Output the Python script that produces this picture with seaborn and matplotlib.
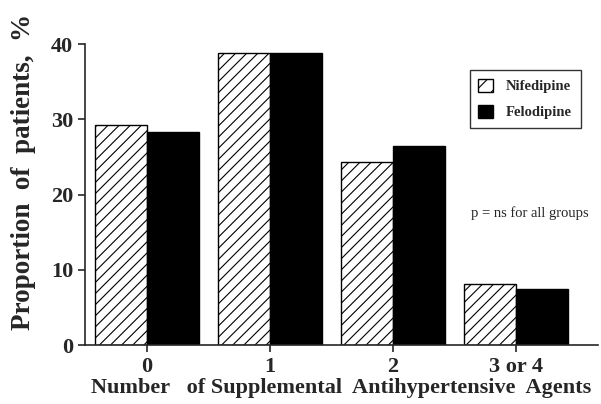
import pandas as pd
import matplotlib.pyplot as plt
import seaborn as sns
from matplotlib.patches import Patch

# dados
grupos = ['0', '1', '2', '3 or 4']
nifedipine = [29.2, 38.8, 24.3, 8.1]
felodipine = [28.3, 38.8, 26.4, 7.4]
farmacos = ['Nifedipine', 'Felodipine']

df = pd.DataFrame({
    'grupo': grupos * 2,
    'valor': nifedipine + felodipine,
    'farmaco': [farmacos[0]] * len(grupos) + [farmacos[1]] * len(grupos),
})

sns.set_style('ticks')
plt.rcParams['font.family'] = ['Liberation Serif', 'DejaVu Serif']
plt.rcParams['hatch.linewidth'] = 0.8

fig = plt.figure(figsize=(6.01, 4.04), dpi=100)
ax = fig.add_axes([0.1414, 0.146, 0.8536, 0.745])

sns.barplot(data=df, x='grupo', y='valor', hue='farmaco', order=grupos,
            hue_order=farmacos, palette=['white', 'black'], width=0.845,
            edgecolor='black', linewidth=1, saturation=1, legend=False, ax=ax)

for barra in ax.containers[0]:
    barra.set_hatch('///')

ax.set_xlim(-0.504, 3.67)
ax.set_ylim(0, 40)
ax.set_yticks([0, 10, 20, 30, 40])
sns.despine(ax=ax)
ax.spines['left'].set_linewidth(1.2)
ax.spines['bottom'].set_linewidth(1.2)
ax.tick_params(axis='both', direction='out', length=5, width=1.2, labelsize=16)
for t in ax.get_xticklabels() + ax.get_yticklabels():
    t.set_fontweight('bold')

ax.set_ylabel('Proportion  of  patients,  %', fontsize=19.5, fontweight='bold')
ax.yaxis.set_label_coords(-0.095, 0.575)
ax.set_xlabel('Number   of Supplemental  Antihypertensive  Agents', fontsize=16,
              fontweight='bold', labelpad=1)

handles = [Patch(facecolor='white', edgecolor='black', hatch='//'),
           Patch(facecolor='black', edgecolor='black')]
leg = ax.legend(handles, farmacos, loc='upper left', bbox_to_anchor=(0.75, 0.914),
                borderaxespad=0, frameon=True, fancybox=False, edgecolor='black',
                handlelength=1.0, handleheight=1.0, handletextpad=0.9,
                prop={'weight': 'bold', 'size': 10.5},
                borderpad=0.6, labelspacing=0.8)
leg.get_frame().set_linewidth(1.0)

ax.text(0.752, 0.439, 'p = ns for all groups', transform=ax.transAxes, fontsize=10.5,
        va='center', ha='left')

plt.savefig('out.png', dpi=100)
